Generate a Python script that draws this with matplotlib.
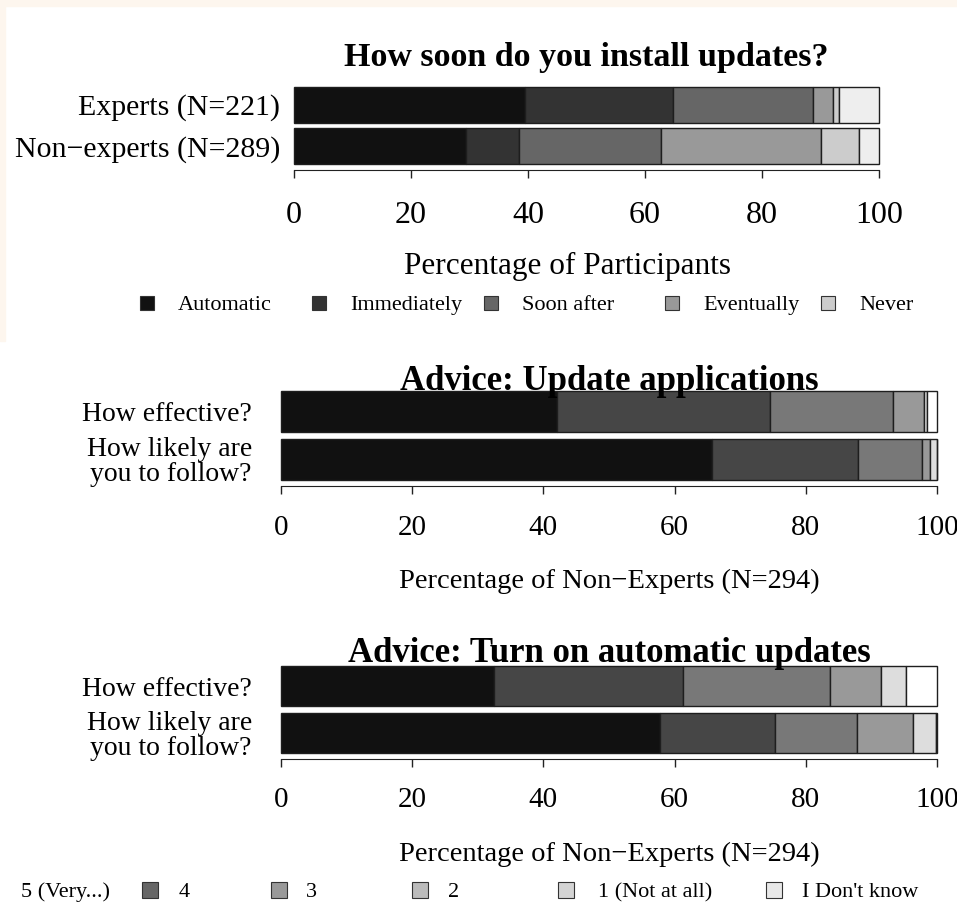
import matplotlib
matplotlib.use("Agg")
import matplotlib.pyplot as plt
from matplotlib.patches import Rectangle

plt.rcParams["font.family"] = ["Liberation Serif", "DejaVu Serif"]

W, H = 957, 915

# --- top panel: how soon updates are installed (percent) ---
speed_groups = ["Experts (N=221)", "Non\u2212experts (N=289)"]
speed_labels = ["Automatic", "Immediately", "Soon after", "Eventually", "Never"]
experts = [39.5, 25.3, 23.9, 3.5, 0.9, 6.9]
non_experts = [29.4, 9.1, 24.2, 27.3, 6.6, 3.4]
speed_colors = ["#111111", "#333333", "#666666", "#999999", "#cccccc", "#eeeeee"]

# --- advice panels (non-experts, N=294) ---
questions = ["How effective?", "How likely are\nyou to follow?"]
apps_effective = [42.0, 32.5, 18.8, 4.7, 0.4, 1.6]
apps_follow = [65.7, 22.2, 9.8, 1.3, 1.0, 0.0]
auto_effective = [32.5, 28.8, 22.4, 7.8, 3.8, 4.7]
auto_follow = [57.8, 17.5, 12.5, 8.5, 3.6, 0.1]
advice_colors = ["#111111", "#464646", "#787878", "#999999", "#dddddd", "#ffffff"]

likert_labels = ["5 (Very...)", "4", "3", "2", "1 (Not at all)", "I Don't know"]
likert_colors = ["#333333", "#666666", "#999999", "#bbbbbb", "#d4d4d4", "#e8e8e8"]

ticks = [0, 20, 40, 60, 80, 100]

fig = plt.figure(figsize=(W / 100, H / 100), dpi=100)
fig.patch.set_facecolor("white")

# cream frame left over from the screenshot
cream = "#fdf6ee"
fig.patches.append(Rectangle((0, 1 - 6 / H), 1, 6 / H, transform=fig.transFigure,
                             color=cream, zorder=0))
fig.patches.append(Rectangle((0, 1 - 341 / H), 5 / W, 341 / H, transform=fig.transFigure,
                             color=cream, zorder=0))


def px_axes(left, top, right, bottom):
    return fig.add_axes([left / W, 1 - bottom / H, (right - left) / W, (bottom - top) / H])


def fx(x):
    return x / W


def fy(y):
    return 1 - y / H


def stacked(ax, rows, names, colors, ypad, ysize, xsize, xpad):
    ypos = list(range(len(rows)))[::-1]
    left = [0.0] * len(rows)
    for j, c in enumerate(colors):
        vals = [r[j] for r in rows]
        bars = ax.barh(ypos, vals, left=left, height=0.86, color=c,
                       edgecolor="#1e1e1e", linewidth=1.0)
        for b in bars:
            b.set_clip_on(False)
        left = [a + v for a, v in zip(left, vals)]
    ax.set_xlim(0, 100)
    ax.set_ylim(-0.43, len(rows) - 0.57)
    ax.set_yticks(ypos)
    ax.set_yticklabels(names, linespacing=1.0, multialignment="right")
    ax.tick_params(axis="y", length=0, pad=ypad, labelsize=ysize)
    ax.set_xticks(ticks)
    ax.set_xticklabels([str(t) for t in ticks])
    ax.tick_params(axis="x", length=6, width=1, pad=xpad, color="#222222",
                   labelsize=xsize)
    for s in ["top", "right", "left"]:
        ax.spines[s].set_visible(False)
    ax.spines["bottom"].set_position(("outward", 4.5))
    ax.spines["bottom"].set_color("#222222")
    ax.patch.set_alpha(0)


# top panel
ax1 = px_axes(294, 87, 879, 164)
stacked(ax1, [experts, non_experts], speed_groups, speed_colors,
        ypad=10, ysize=21.5, xsize=23, xpad=16)
fig.text(fx(586), fy(54), "How soon do you install updates?", fontsize=24.5,
         fontweight="bold", ha="center", va="center_baseline")
fig.text(fx(567), fy(263), "Percentage of Participants", fontsize=22.5,
         ha="center", va="center_baseline")

leg_sq = [147, 319, 491, 672, 828]
for x, lab, c in zip(leg_sq, speed_labels, speed_colors):
    fig.patches.append(Rectangle((fx(x - 7), fy(303) - 7 / H), 14 / W, 14 / H,
                                 transform=fig.transFigure, facecolor=c,
                                 edgecolor="#333333", linewidth=0.8))
    fig.text(fx(x + 31), fy(303), lab, fontsize=16, ha="left", va="center_baseline")

# advice: update applications
ax2 = px_axes(281, 391, 937, 480)
stacked(ax2, [apps_effective, apps_follow], questions, advice_colors,
        ypad=21, ysize=20, xsize=21, xpad=14.5)
fig.text(fx(609), fy(378), "Advice: Update applications", fontsize=25,
         fontweight="bold", ha="center", va="center_baseline")
fig.text(fx(609), fy(578), "Percentage of Non\u2212Experts (N=294)", fontsize=20.5,
         ha="center", va="center_baseline")

# advice: turn on automatic updates
ax3 = px_axes(281, 666, 937, 753)
stacked(ax3, [auto_effective, auto_follow], questions, advice_colors,
        ypad=21, ysize=20, xsize=21, xpad=14)
fig.text(fx(609), fy(650), "Advice: Turn on automatic updates", fontsize=25,
         fontweight="bold", ha="center", va="center_baseline")
fig.text(fx(609), fy(851), "Percentage of Non\u2212Experts (N=294)", fontsize=20.5,
         ha="center", va="center_baseline")

# bottom legend (cut off on the left in the original)
lk_sq = [-20, 150, 279, 420, 566, 774]
lk_tx = [21, 179, 306, 448, 598, 802]
for i, (lab, c) in enumerate(zip(likert_labels, likert_colors)):
    if i > 0:
        fig.patches.append(Rectangle((fx(lk_sq[i] - 8), fy(890) - 8 / H), 16 / W, 16 / H,
                                     transform=fig.transFigure, facecolor=c,
                                     edgecolor="#333333", linewidth=0.8))
    fig.text(fx(lk_tx[i]), fy(890), lab, fontsize=16, ha="left", va="center_baseline")

fig.savefig("out.png", dpi=100)
